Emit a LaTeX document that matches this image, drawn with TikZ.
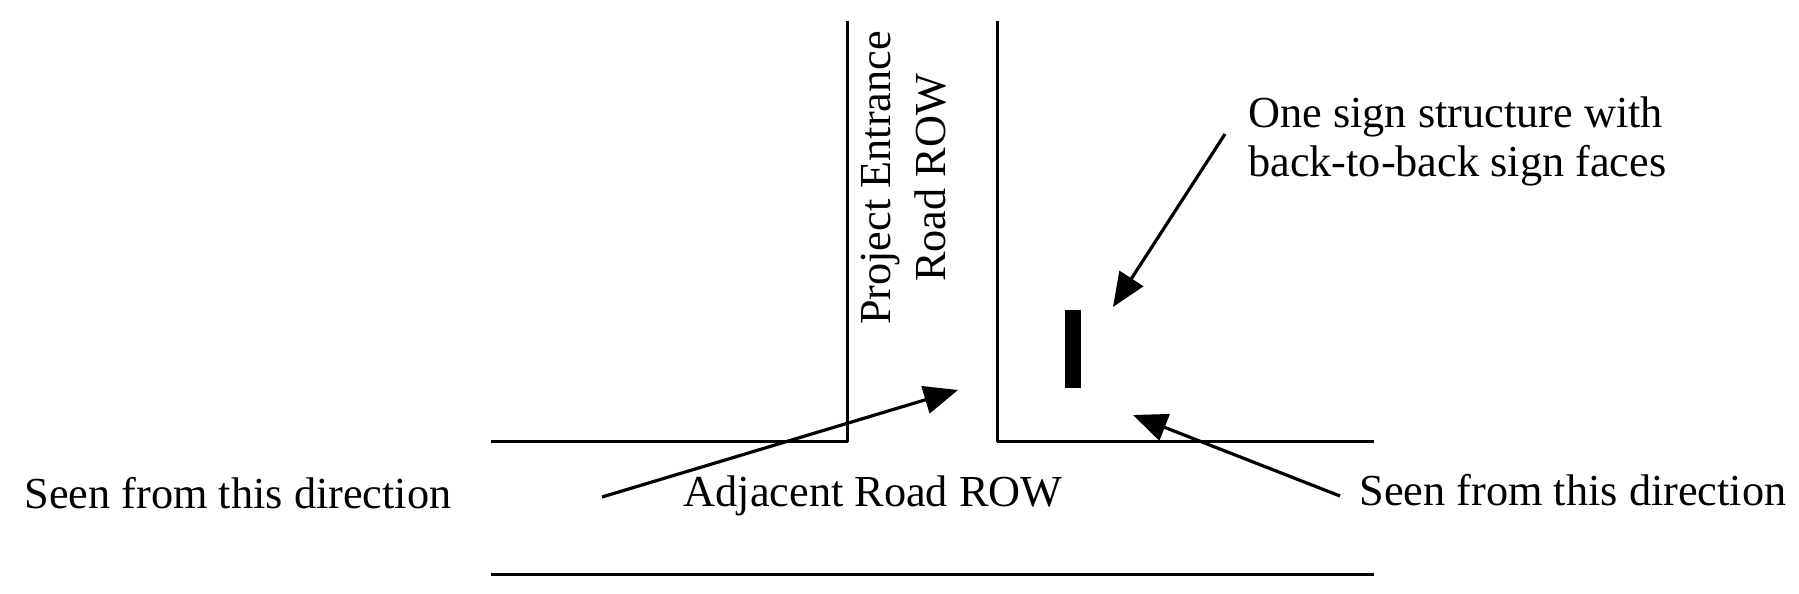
\documentclass[tikz,border=0pt]{standalone}
\usepackage{fontspec}
\setmainfont{Liberation Serif}
\usetikzlibrary{arrows.meta}
\begin{document}
\begin{tikzpicture}[x=1pt,y=-1pt,
  road/.style={line width=3pt, line join=round},
  pointer/.style={line width=3.2pt, -{Triangle[length=34pt,width=28pt]}},
  lbl/.style={font=\fontsize{44.3}{49}\selectfont, inner sep=0pt}]
\useasboundingbox (0,0) rectangle (1799,594);
% roads
\coordinate (la) at (491,441);
\coordinate (lc) at (847,441);
\coordinate (lt) at (847,21);
\coordinate (rt) at (997,21);
\coordinate (rc) at (997,441);
\coordinate (rb) at (1374,441);
\coordinate (ba) at (491,574);
\coordinate (bb) at (1374,574);
\draw[road] (la) -- (lc) -- (lt);
\draw[road] (rt) -- (rc) -- (rb);
\draw[road] (ba) -- (bb);
% sign
\fill (1065,310) rectangle (1081,388);
\node[inner sep=0pt, minimum width=16pt, minimum height=78pt] (sign) at (1073,349) {};
% labels
\node[lbl, rotate=90, align=center, font=\fontsize{44.3}{55}\selectfont] (ent) at (904,178) {Project Entrance\\Road ROW};
\node[lbl] (adj) at (873,496) {Adjacent Road ROW};
\node[lbl] (seenL) at (238,493) {Seen from this direction};
\node[lbl] (seenR) at (1573,490) {Seen from this direction};
\node[lbl, anchor=west, align=left] (one) at (1248,141) {One sign structure with\\back-to-back sign faces};
% arrows
\coordinate (a1s) at (602,497);
\coordinate (a1t) at (958,390);
\coordinate (a2s) at (1340,496);
\coordinate (a2t) at (1133,415);
\coordinate (a3s) at (1225,134);
\coordinate (a3t) at (1113,307);
\draw[pointer] (a1s) -- (a1t);
\draw[pointer] (a2s) -- (a2t);
\draw[pointer] (a3s) -- (a3t);
\end{tikzpicture}
\end{document}
